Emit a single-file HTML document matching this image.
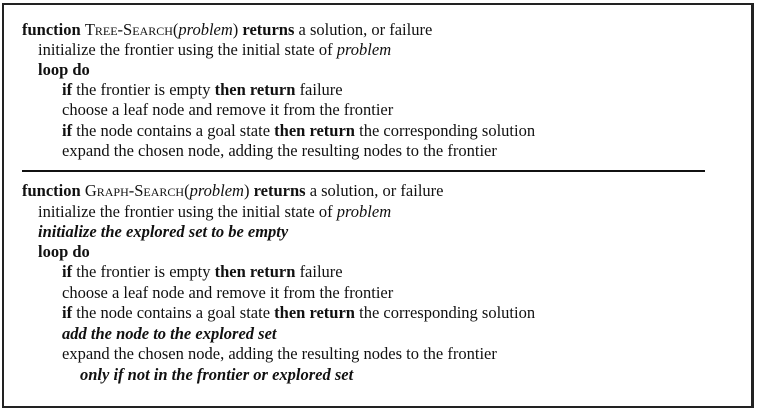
<!DOCTYPE html>
<html><head><style>
body{margin:0;width:757px;height:413px;background:#fff;position:relative;overflow:hidden;font-family:"Liberation Serif",serif;font-size:16.5px;color:#111}
.box{position:absolute;left:2px;top:3px;width:747px;height:401px;border:2px solid #222;border-right-width:3px}
.l{position:absolute;white-space:nowrap;line-height:18px}
.sc{font-variant:small-caps}
hr{position:absolute;left:22px;top:170px;width:683px;margin:0;border:0;border-top:2px solid #111}
</style></head><body>
<div class="box"></div>
<div class="l" style="left:22px;top:21px"><b>function</b> <span class="sc">Tree-Search</span>(<i>problem</i>) <b>returns</b> a solution, or failure</div>
<div class="l" style="left:38px;top:41px">initialize the frontier using the initial state of <i>problem</i></div>
<div class="l" style="left:38px;top:61px"><b>loop do</b></div>
<div class="l" style="left:62px;top:81px"><b>if</b> the frontier is empty <b>then return</b> failure</div>
<div class="l" style="left:62px;top:101px">choose a leaf node and remove it from the frontier</div>
<div class="l" style="left:62px;top:122px"><b>if</b> the node contains a goal state <b>then return</b> the corresponding solution</div>
<div class="l" style="left:62px;top:142px">expand the chosen node, adding the resulting nodes to the frontier</div>
<hr>
<div class="l" style="left:22px;top:182px"><b>function</b> <span class="sc">Graph-Search</span>(<i>problem</i>) <b>returns</b> a solution, or failure</div>
<div class="l" style="left:38px;top:203px">initialize the frontier using the initial state of <i>problem</i></div>
<div class="l" style="left:38px;top:223px"><b><i>initialize the explored set to be empty</i></b></div>
<div class="l" style="left:38px;top:243px"><b>loop do</b></div>
<div class="l" style="left:62px;top:263px"><b>if</b> the frontier is empty <b>then return</b> failure</div>
<div class="l" style="left:62px;top:284px">choose a leaf node and remove it from the frontier</div>
<div class="l" style="left:62px;top:304px"><b>if</b> the node contains a goal state <b>then return</b> the corresponding solution</div>
<div class="l" style="left:62px;top:325px"><b><i>add the node to the explored set</i></b></div>
<div class="l" style="left:62px;top:345px">expand the chosen node, adding the resulting nodes to the frontier</div>
<div class="l" style="left:80px;top:366px"><b><i>only if not in the frontier or explored set</i></b></div>
</body></html>
